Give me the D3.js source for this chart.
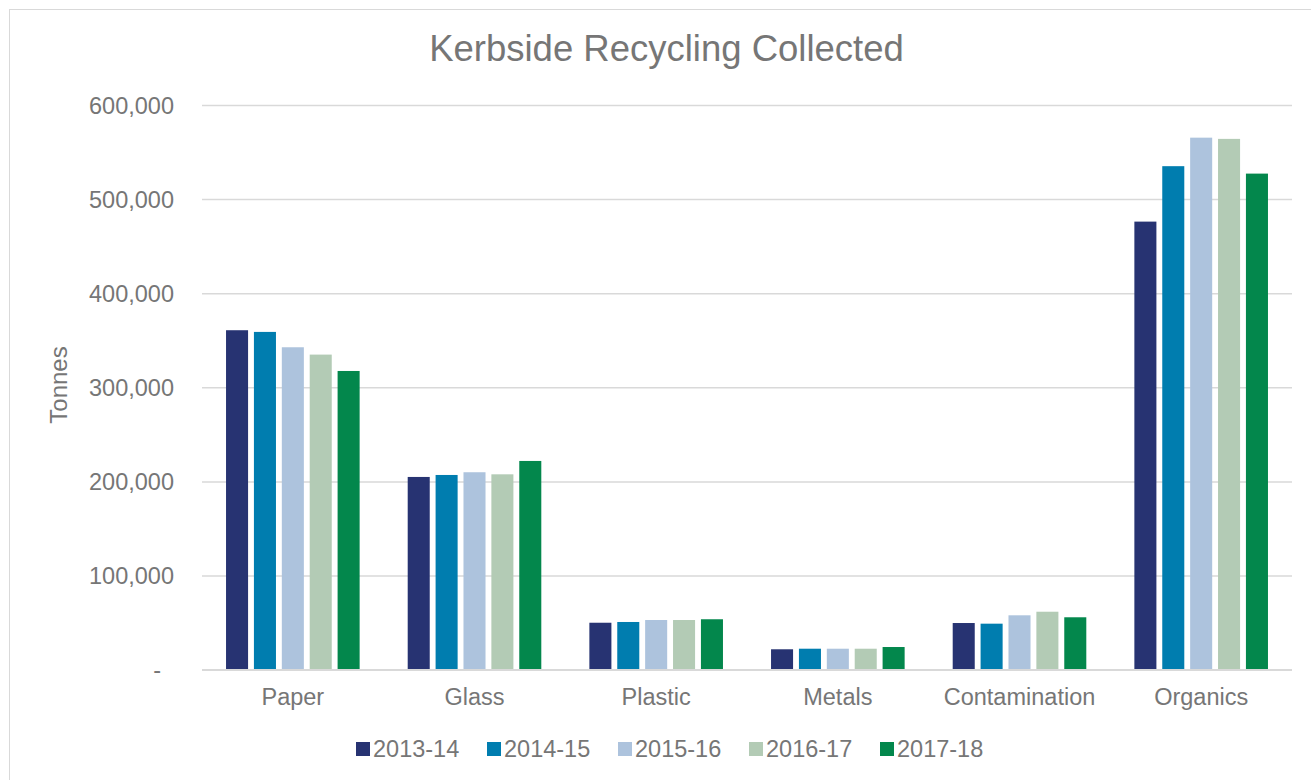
<!DOCTYPE html>
<html>
<head>
<meta charset="utf-8">
<script src="https://cdn.jsdelivr.net/npm/d3@7"></script>
<style>
	body { margin: 0; background: #fff; }
	text { font-family: 'Liberation Sans', Arial, sans-serif; fill: #767676; }
</style>
</head>
<body>
<script>
// Data
var categories = ['Paper', 'Glass', 'Plastic', 'Metals', 'Contamination', 'Organics'];
var years = ['2013-14', '2014-15', '2015-16', '2016-17', '2017-18'];
var values2013 = [360700, 204800, 49900, 21700, 49600, 476100];
var values2014 = [358900, 206900, 50700, 22300, 48900, 535000];
var values2015 = [342600, 209800, 52800, 22300, 57800, 565300];
var values2016 = [334800, 207600, 52800, 22300, 61600, 564000];
var values2017 = [317400, 221800, 53600, 24100, 55700, 527100];
var yTicks = [0, 100000, 200000, 300000, 400000, 500000, 600000];
var colors = ['#273372', '#007daf', '#adc3dd', '#b3cbb5', '#03874c'];

var series = [values2013, values2014, values2015, values2016, values2017];

// Variables
var W = 1311, H = 780;
var plot = { left: 202, right: 1292, top: 105, bottom: 669.7 };
var formatTick = d3.format(',');

var svg = d3.select('body').append('svg')
	.attr('width', W)
	.attr('height', H);

// Chart border
svg.append('rect')
	.attr('x', 9.5).attr('y', 9.5)
	.attr('width', W + 20).attr('height', H + 20)
	.attr('fill', 'none')
	.attr('stroke', '#d9d9d9')
	.attr('stroke-width', 1);

// Scaling
var x0 = d3.scaleBand()
	.domain(categories)
	.range([plot.left, plot.right])
	.paddingInner(0.2646)
	.paddingOuter(0.1323);
var x1 = d3.scaleBand()
	.domain(years)
	.range([0, x0.bandwidth()])
	.paddingInner(0.21);
var y = d3.scaleLinear()
	.domain([0, 600000])
	.range([plot.bottom, plot.top]);

// Gridlines
var yAxis = d3.axisLeft(y)
	.tickValues(yTicks)
	.tickSize(-(plot.right - plot.left))
	.tickFormat(function(d) { return d === 0 ? '' : formatTick(d); })
	.tickPadding(28);
var gy = svg.append('g')
	.attr('transform', 'translate(' + plot.left + ',0)')
	.call(yAxis);
gy.select('.domain').remove();
gy.selectAll('.tick line')
	.attr('stroke', '#d9d9d9')
	.attr('stroke-width', 1.5);
gy.selectAll('.tick text')
	.style('font-size', '23.5px')
	.attr('dy', '0.35em');
// zero label shown as a dash (accounting format)
svg.append('text')
	.attr('x', 161)
	.attr('y', y(0))
	.attr('dy', '0.35em')
	.style('text-anchor', 'end')
	.style('font-size', '23.5px')
	.text('-');

// Bars
var groups = svg.selectAll('.cat')
	.data(categories)
	.enter()
	.append('g')
	.attr('class', 'cat')
	.attr('transform', function(d) { return 'translate(' + x0(d) + ',0)'; });

groups.selectAll('rect')
	.data(function(d, ci) {
		return years.map(function(yr, si) { return { year: yr, value: series[si][ci], i: si }; });
	})
	.enter()
	.append('rect')
	.attr('x', function(d) { return x1(d.year); })
	.attr('y', function(d) { return y(d.value); })
	.attr('width', x1.bandwidth())
	.attr('height', function(d) { return y(0) - y(d.value); })
	.attr('fill', function(d) { return colors[d.i]; });

// Category axis
var xAxis = d3.axisBottom(x0).tickSize(0).tickPadding(0);
var gx = svg.append('g')
	.attr('transform', 'translate(0,' + plot.bottom + ')')
	.call(xAxis);
gx.select('.domain').remove();
gx.selectAll('.tick text')
	.attr('y', 35.5)
	.attr('dy', 0)
	.style('font-size', '23.5px');
svg.append('line')
	.attr('x1', plot.left).attr('x2', plot.right)
	.attr('y1', plot.bottom).attr('y2', plot.bottom)
	.attr('stroke', '#d9d9d9')
	.attr('stroke-width', 1.5);

// Title
svg.append('text')
	.attr('x', 666.5)
	.attr('y', 61)
	.style('text-anchor', 'middle')
	.style('font-size', '36.5px')
	.text('Kerbside Recycling Collected');

// Y axis label
svg.append('text')
	.attr('transform', 'translate(67,385) rotate(-90)')
	.style('text-anchor', 'middle')
	.style('font-size', '24px')
	.text('Tonnes');

// Legend
var legend = svg.append('g');
var items = legend.selectAll('g')
	.data(years)
	.enter()
	.append('g')
	.attr('transform', function(d, i) { return 'translate(' + (356 + i * 131) + ',742)'; });
items.append('rect')
	.attr('width', 14)
	.attr('height', 14)
	.attr('fill', function(d, i) { return colors[i]; });
items.append('text')
	.attr('x', 17)
	.attr('y', 15)
	.style('font-size', '23.5px')
	.text(function(d) { return d; });
</script>
</body>
</html>
